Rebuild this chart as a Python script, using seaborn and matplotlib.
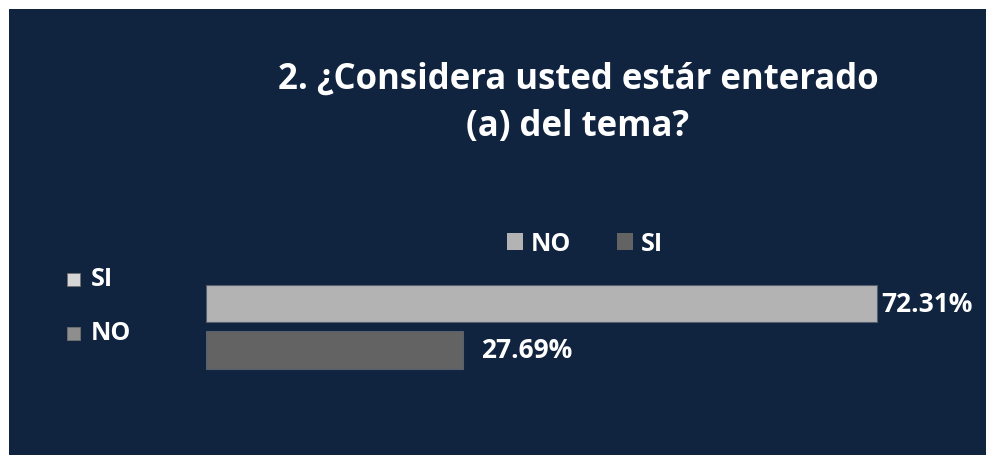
import matplotlib
matplotlib.use("Agg")
import matplotlib.pyplot as plt
import seaborn as sns
import pandas as pd
from matplotlib.patches import Rectangle

# datos del grafico
categorias = ["NO", "SI"]
porcentajes = [72.31, 27.69]
etiquetas = ["72.31%", "27.69%"]
colores = ["#b3b3b3", "#636363"]
titulo = "2. ¿Considera usted estár enterado\n(a) del tema?"
lado_etiquetas = ["SI", "NO"]
lado_colores = ["#d6d6d6", "#8e8e8e"]

fondo = "#10233f"
W, H = 987, 456

sns.set_theme(style="white")
plt.rcParams['font.family'] = ['Open Sans', 'DejaVu Sans']

df = pd.DataFrame({"cat": categorias, "pct": porcentajes})

fig = plt.figure(figsize=(W / 100, H / 100), dpi=100)
fig.patch.set_facecolor(fondo)
fig.patch.set_edgecolor(fondo)
# borde blanco arriba e izquierda
fig.patches.append(Rectangle((0, 1 - 10 / H), 1, 10 / H, transform=fig.transFigure,
                             facecolor="white", edgecolor="none", zorder=-1))
fig.patches.append(Rectangle((0, 0), 9 / W, 1, transform=fig.transFigure,
                             facecolor="white", edgecolor="none", zorder=-1))

ax = fig.add_axes([206 / W, 1 - 374.25 / H, 742 / W, 93 / H])
ax.set_facecolor("none")
sns.barplot(data=df, y="cat", x="pct", hue="cat", palette=colores, order=categorias,
            hue_order=categorias, width=0.8, ax=ax, legend=False,
            edgecolor="#56606e", linewidth=0.8, saturation=1)
ax.set_xlim(0, 80)
ax.set_ylim(1.5, -0.5)
ax.set_xlabel("")
ax.set_ylabel("")
ax.set_xticks([])
ax.set_yticks([])
for s in ax.spines.values():
    s.set_visible(False)

pads = [3, 13]
for cont, lab, p in zip(ax.containers, etiquetas, pads):
    ax.bar_label(cont, labels=[lab], padding=p, color="white", fontsize=19,
                 fontweight="bold")

fig.text(578 / W, 1 - 103 / H, titulo, ha="center", va="center", color="white",
         fontsize=25, fontweight="bold", linespacing=1.42)

# leyenda superior
handles = [Rectangle((0, 0), 1, 1, facecolor=c, edgecolor="none") for c in colores]
leg = fig.legend(handles, categorias, loc="center", bbox_to_anchor=(585 / W, 1 - 245 / H),
                 ncol=2, frameon=False, handlelength=0.64, handleheight=0.64,
                 handletextpad=0.32, columnspacing=1.8, fontsize=18)
for t in leg.get_texts():
    t.set_color("white")
    t.set_fontweight("bold")

# etiquetas a la izquierda
for lab, c, yy in zip(lado_etiquetas, lado_colores, [280, 334]):
    fig.patches.append(Rectangle((67 / W, 1 - (yy + 6.5) / H), 13 / W, 13 / H,
                                 transform=fig.transFigure, facecolor=c,
                                 edgecolor="#707070", linewidth=0.6, zorder=2))
    fig.text(91 / W, 1 - yy / H, lab, ha="left", va="center", color="white",
             fontsize=18, fontweight="bold")

fig.savefig("out.png", dpi=100, facecolor=fondo, edgecolor=fondo)
